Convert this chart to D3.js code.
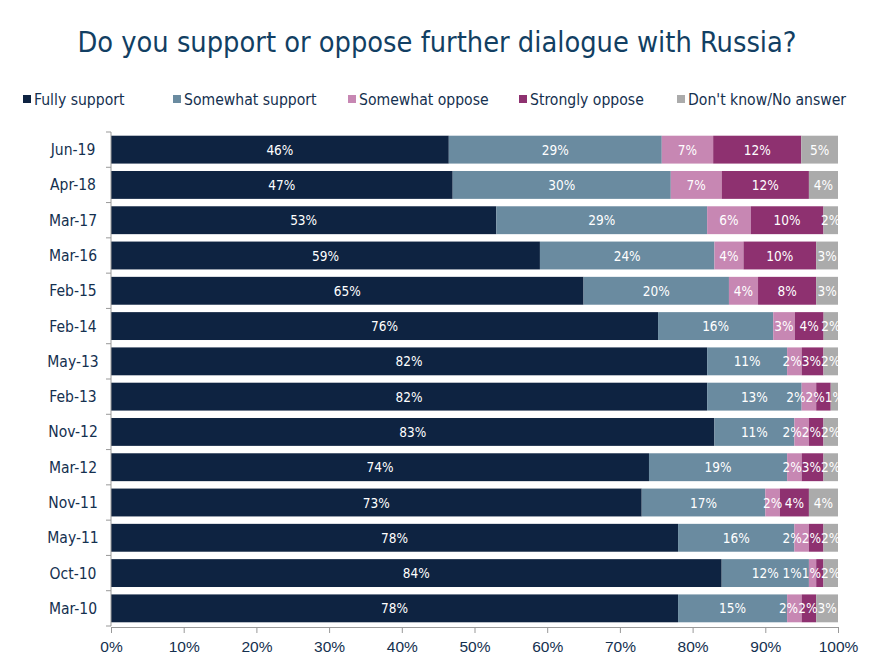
<!DOCTYPE html>
<html>
<head>
<meta charset="utf-8">
<script src="https://cdn.jsdelivr.net/npm/d3@7"></script>
<style>
  body { margin: 0; background: #fff; }
  svg { font-family: "DejaVu Sans Condensed", "DejaVu Sans", sans-serif; }
</style>
</head>
<body>
<div id="chart"></div>
<script>
// survey waves, top to bottom
const waves = ["Jun-19", "Apr-18", "Mar-17", "Mar-16", "Feb-15", "Feb-14", "May-13",
  "Feb-13", "Nov-12", "Mar-12", "Nov-11", "May-11", "Oct-10", "Mar-10"];
const answers = ["Fully support", "Somewhat support", "Somewhat oppose", "Strongly oppose", "Don't know/No answer"];
const fullySupport     = [46, 47, 53, 59, 65, 76, 82, 82, 83, 74, 73, 78, 84, 78];
const somewhatSupport  = [29, 30, 29, 24, 20, 16, 11, 13, 11, 19, 17, 16, 12, 15];
const somewhatOppose   = [7, 7, 6, 4, 4, 3, 2, 2, 2, 2, 2, 2, 1, 2];
const stronglyOppose   = [12, 12, 10, 10, 8, 4, 3, 2, 2, 3, 4, 2, 1, 2];
const dontKnow         = [5, 4, 2, 3, 3, 2, 2, 1, 2, 2, 4, 2, 2, 3];
const xTicks = [0, 0.1, 0.2, 0.3, 0.4, 0.5, 0.6, 0.7, 0.8, 0.9, 1];

const colors = ["#0e2341", "#6a8ba0", "#c787b3", "#8e3170", "#ababab"];
const series = [fullySupport, somewhatSupport, somewhatOppose, stronglyOppose, dontKnow];

const width = 876, height = 667;
const mLeft = 111, mRight = 838, mTop = 132, mBottom = 626;

const rows = waves.map((w, i) => {
  const r = {wave: w};
  answers.forEach((a, j) => r[a] = series[j][i]);
  return r;
});

const svg = d3.select("#chart").append("svg")
  .attr("width", width).attr("height", height);

svg.append("text")
  .attr("x", 437).attr("y", 52)
  .attr("text-anchor", "middle")
  .attr("font-size", 28.7)
  .attr("fill", "#123f63")
  .text("Do you support or oppose further dialogue with Russia?");

// legend
const legendX = [23, 173, 348, 519, 677];
const legend = svg.append("g");
answers.forEach((a, j) => {
  const g = legend.append("g").attr("transform", `translate(${legendX[j]},99)`);
  g.append("rect").attr("x", 0).attr("y", -4).attr("width", 8).attr("height", 8).attr("fill", colors[j]);
  g.append("text").attr("x", 11).attr("y", 5.5).attr("font-size", 15.6).attr("fill", "#14304f").text(a);
});

const x = d3.scaleLinear().domain([0, 1]).range([mLeft, mRight]);
const y = d3.scaleBand().domain(waves).range([mTop, mBottom]).paddingInner(0.21).paddingOuter(0.105);

const stack = d3.stack().keys(answers).offset(d3.stackOffsetExpand);
const stacked = stack(rows);

svg.append("g").selectAll("g")
  .data(stacked).join("g")
  .attr("fill", (d, i) => colors[i])
  .selectAll("rect")
  .data(d => d).join("rect")
  .attr("x", d => x(d[0]))
  .attr("y", d => y(d.data.wave))
  .attr("width", d => x(d[1]) - x(d[0]))
  .attr("height", y.bandwidth());

// labels, one group per wave so crowded small ones can be pushed left
const labelRows = svg.append("g").selectAll("g")
  .data(waves.map((w, i) => stacked.map((s, j) => ({wave: w, seg: s[i], value: series[j][i]}))))
  .join("g");

labelRows.selectAll("text")
  .data(d => d).join("text")
  .attr("x", d => (x(d.seg[0]) + x(d.seg[1])) / 2)
  .attr("y", d => y(d.wave) + y.bandwidth() / 2 + 5)
  .attr("text-anchor", "middle")
  .attr("font-size", 13.5)
  .attr("fill", "#fff")
  .text(d => d.value + "%");

labelRows.each(function() {
  const nodes = d3.select(this).selectAll("text").nodes();
  let prevLeft = Infinity;
  for (let k = nodes.length - 1; k >= 0; k--) {
    const t = nodes[k];
    const w = t.getComputedTextLength();
    let cx = +t.getAttribute("x");
    if (cx + w / 2 > prevLeft) cx = prevLeft - w / 2;
    t.setAttribute("x", cx);
    prevLeft = cx - w / 2;
  }
});

// y axis with ticks between bars
const yAxis = svg.append("g");
yAxis.append("line").attr("x1", mLeft).attr("x2", mLeft).attr("y1", mTop).attr("y2", mBottom).attr("stroke", "#999");
const step = y.step();
d3.range(waves.length + 1).forEach(i => {
  yAxis.append("line").attr("x1", mLeft - 5).attr("x2", mLeft)
    .attr("y1", mTop + i * step).attr("y2", mTop + i * step).attr("stroke", "#999");
});
yAxis.selectAll("text").data(waves).join("text")
  .attr("x", 73).attr("y", d => y(d) + y.bandwidth() / 2 + 5.5)
  .attr("text-anchor", "middle")
  .attr("font-size", 15.5)
  .attr("fill", "#14304f")
  .text(d => d);

// x axis
const xAxis = svg.append("g")
  .attr("transform", `translate(0,${mBottom + 1})`)
  .call(d3.axisBottom(x).tickValues(xTicks).tickFormat(d3.format(".0%")).tickSize(6).tickPadding(8));
xAxis.select(".domain").attr("stroke", "#999");
xAxis.selectAll(".tick line").attr("stroke", "#999");
xAxis.selectAll("text").attr("font-size", 15.5).attr("fill", "#14304f").attr("font-family", null);
</script>
</body>
</html>
